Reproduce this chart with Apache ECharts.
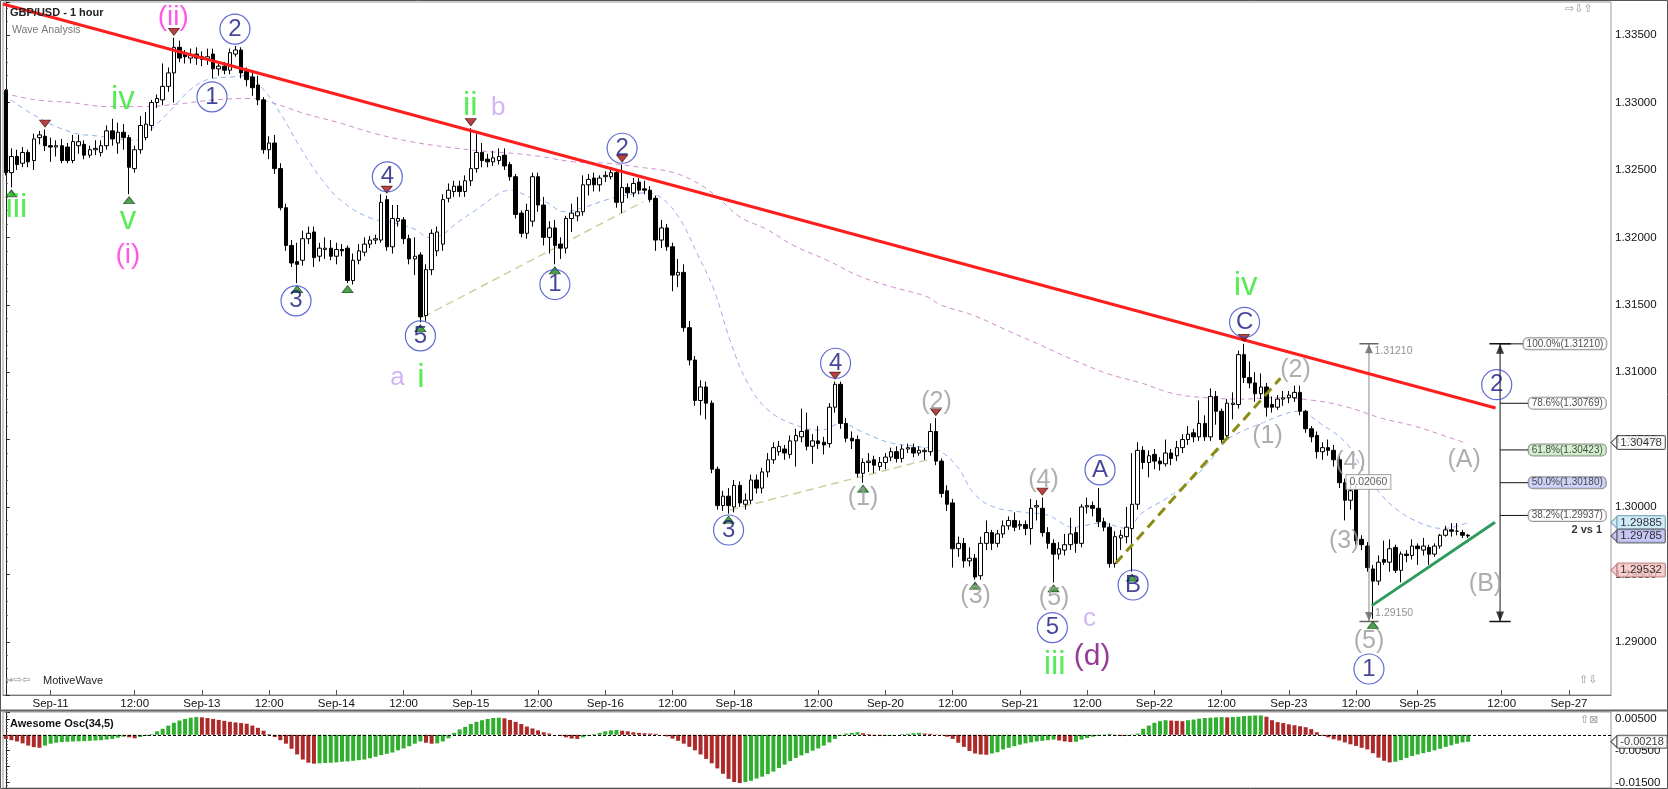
<!DOCTYPE html>
<html><head><meta charset="utf-8">
<script src="https://cdn.jsdelivr.net/npm/echarts@6/dist/echarts.min.js"></script>
<style>html,body{margin:0;padding:0;background:#fff}#c{width:1668px;height:789px}</style>
</head><body><div id="c"></div>
<script>
// ---------- DATA ----------
const tickIdx  = [8,23,35,47,59,71,83,95,107,119,130,145,157,169,181,193,205,217,229,241,252,267,279];
const tickText = ['Sep-11','12:00','Sep-13','12:00','Sep-14','12:00','Sep-15','12:00','Sep-16','12:00','Sep-18','12:00','Sep-20','12:00','Sep-21','12:00','Sep-22','12:00','Sep-23','12:00','Sep-25','12:00','Sep-27'];

// hourly candles [open, high, low, close]
const candles = [
[1.3309,1.3310,1.3246,1.3248],[1.3248,1.3266,1.3237,1.3260],[1.3260,1.3265,1.3250,1.3254],[1.3255,1.3267,1.3252,1.3263],[1.3263,1.3265,1.3252,1.3256],
[1.3257,1.3277,1.3250,1.3273],[1.3274,1.3279,1.3269,1.3276],[1.3275,1.3280,1.3264,1.3268],[1.3268,1.3274,1.3256,1.3267],[1.3267,1.3272,1.3260,1.3268],
[1.3268,1.3273,1.3255,1.3257],[1.3267,1.3270,1.3255,1.3257],[1.3257,1.3276,1.3255,1.3271],[1.3268,1.3276,1.3262,1.3271],[1.3269,1.3272,1.3258,1.3261],
[1.3261,1.3268,1.3259,1.3265],[1.3265,1.3272,1.3261,1.3266],[1.3263,1.3272,1.3260,1.3268],[1.3268,1.3283,1.3265,1.3279],[1.3279,1.3288,1.3268,1.3273],
[1.3270,1.3285,1.3262,1.3278],[1.3278,1.3284,1.3265,1.3274],[1.3274,1.3276,1.3232,1.3252],[1.3251,1.3268,1.3248,1.3265],[1.3265,1.3290,1.3262,1.3283],
[1.3274,1.3293,1.3272,1.3284],[1.3283,1.3302,1.3279,1.3300],[1.3300,1.3306,1.3296,1.3303],[1.3302,1.3329,1.3298,1.3312],[1.3312,1.3326,1.3308,1.3322],
[1.3322,1.3348,1.3300,1.3341],[1.3341,1.3346,1.3330,1.3333],[1.3336,1.3339,1.3329,1.3334],[1.3333,1.3340,1.3329,1.3335],[1.3336,1.3341,1.3328,1.3333],
[1.3334,1.3338,1.3327,1.3332],[1.3332,1.3340,1.3328,1.3334],[1.3336,1.3340,1.3318,1.3325],[1.3325,1.3330,1.3320,1.3327],[1.3327,1.3330,1.3321,1.3324],
[1.3324,1.3340,1.3321,1.3337],[1.3336,1.3342,1.3334,1.3339],[1.3339,1.3341,1.3318,1.3322],[1.3323,1.3326,1.3312,1.3317],[1.3319,1.3324,1.3305,1.3311],
[1.3313,1.3320,1.3298,1.3302],[1.3302,1.3304,1.3262,1.3265],[1.3265,1.3275,1.3258,1.3270],[1.3270,1.3276,1.3247,1.3251],[1.3251,1.3255,1.3220,1.3222],
[1.3222,1.3225,1.3190,1.3194],[1.3194,1.3198,1.3178,1.3181],[1.3182,1.3196,1.3166,1.3180],[1.3183,1.3205,1.3179,1.3199],[1.3199,1.3208,1.3195,1.3203],
[1.3204,1.3208,1.3178,1.3185],[1.3186,1.3196,1.3182,1.3192],[1.3191,1.3200,1.3184,1.3192],[1.3192,1.3198,1.3183,1.3186],[1.3186,1.3196,1.3180,1.3191],
[1.3191,1.3195,1.3186,1.3190],[1.3192,1.3194,1.3166,1.3168],[1.3168,1.3188,1.3165,1.3183],[1.3183,1.3195,1.3180,1.3190],[1.3189,1.3200,1.3186,1.3195],
[1.3195,1.3201,1.3192,1.3198],[1.3198,1.3202,1.3195,1.3199],[1.3198,1.3232,1.3196,1.3226],[1.3228,1.3231,1.3190,1.3193],[1.3193,1.3224,1.3188,1.3214],
[1.3212,1.3224,1.3208,1.3214],[1.3213,1.3215,1.3195,1.3199],[1.3199,1.3202,1.3180,1.3184],[1.3184,1.3200,1.3172,1.3186],[1.3187,1.3189,1.3137,1.3141],
[1.3142,1.3180,1.3138,1.3176],[1.3176,1.3206,1.3172,1.3203],[1.3190,1.3208,1.3186,1.3204],[1.3195,1.3232,1.3190,1.3228],[1.3229,1.3240,1.3226,1.3235],
[1.3234,1.3242,1.3230,1.3238],[1.3238,1.3242,1.3230,1.3234],[1.3234,1.3246,1.3230,1.3242],[1.3242,1.3281,1.3238,1.3251],[1.3251,1.3277,1.3248,1.3263],
[1.3263,1.3270,1.3252,1.3257],[1.3258,1.3262,1.3252,1.3256],[1.3256,1.3264,1.3253,1.3259],[1.3257,1.3266,1.3254,1.3260],[1.3261,1.3266,1.3250,1.3253],
[1.3254,1.3256,1.3242,1.3245],[1.3245,1.3247,1.3214,1.3217],[1.3218,1.3220,1.3200,1.3203],[1.3203,1.3225,1.3199,1.3220],[1.3212,1.3248,1.3208,1.3245],
[1.3245,1.3248,1.3219,1.3224],[1.3224,1.3230,1.3194,1.3200],[1.3200,1.3212,1.3188,1.3207],[1.3207,1.3213,1.3180,1.3194],[1.3195,1.3200,1.3184,1.3192],
[1.3192,1.3216,1.3188,1.3214],[1.3214,1.3225,1.3204,1.3218],[1.3216,1.3230,1.3212,1.3219],[1.3219,1.3246,1.3216,1.3239],[1.3239,1.3247,1.3231,1.3243],
[1.3244,1.3248,1.3234,1.3239],[1.3239,1.3246,1.3234,1.3244],[1.3245,1.3249,1.3241,1.3246],[1.3245,1.3250,1.3243,1.3248],[1.3248,1.3250,1.3222,1.3226],
[1.3226,1.3254,1.3218,1.3237],[1.3237,1.3240,1.3229,1.3233],[1.3233,1.3244,1.3230,1.3240],[1.3241,1.3244,1.3232,1.3235],[1.3236,1.3242,1.3232,1.3235],
[1.3235,1.3238,1.3226,1.3228],[1.3229,1.3231,1.3190,1.3198],[1.3198,1.3213,1.3192,1.3207],[1.3207,1.3210,1.3190,1.3193],[1.3193,1.3196,1.3160,1.3172],
[1.3172,1.3184,1.3163,1.3174],[1.3174,1.3180,1.3130,1.3133],[1.3133,1.3138,1.3105,1.3109],[1.3109,1.3112,1.3075,1.3079],[1.3079,1.3094,1.3068,1.3089],
[1.3089,1.3093,1.3065,1.3077],[1.3077,1.3079,1.3025,1.3028],[1.3028,1.3030,1.2998,1.3001],[1.3001,1.3012,1.2997,1.3008],[1.3008,1.3014,1.2995,1.3001],
[1.3000,1.3020,1.2996,1.3016],[1.3016,1.3019,1.3000,1.3003],[1.3002,1.3010,1.2998,1.3005],[1.3005,1.3024,1.3002,1.3020],[1.3020,1.3024,1.3010,1.3014],
[1.3014,1.3029,1.3010,1.3026],[1.3026,1.3040,1.3022,1.3035],[1.3035,1.3048,1.3032,1.3044],[1.3041,1.3049,1.3038,1.3045],[1.3043,1.3046,1.3035,1.3040],
[1.3039,1.3053,1.3036,1.3049],[1.3049,1.3058,1.3030,1.3053],[1.3052,1.3073,1.3048,1.3056],[1.3057,1.3070,1.3042,1.3045],[1.3045,1.3054,1.3032,1.3049],
[1.3049,1.3060,1.3043,1.3047],[1.3048,1.3052,1.3039,1.3046],[1.3047,1.3077,1.3044,1.3074],[1.3074,1.3093,1.3070,1.3091],[1.3091,1.3093,1.3058,1.3062],
[1.3062,1.3066,1.3048,1.3051],[1.3051,1.3056,1.3043,1.3049],[1.3050,1.3053,1.3022,1.3025],[1.3025,1.3036,1.3018,1.3033],[1.3033,1.3040,1.3026,1.3034],
[1.3035,1.3038,1.3025,1.3031],[1.3030,1.3037,1.3027,1.3033],[1.3033,1.3040,1.3028,1.3037],[1.3037,1.3044,1.3034,1.3041],[1.3041,1.3045,1.3033,1.3036],
[1.3036,1.3046,1.3033,1.3043],[1.3043,1.3047,1.3040,1.3044],[1.3044,1.3047,1.3037,1.3040],[1.3040,1.3045,1.3038,1.3042],[1.3041,1.3044,1.3035,1.3042],
[1.3041,1.3062,1.3038,1.3056],[1.3056,1.3066,1.3031,1.3034],[1.3034,1.3036,1.3007,1.3010],[1.3012,1.3016,1.2997,1.3002],[1.3003,1.3006,1.2955,1.2969],
[1.2969,1.2978,1.2963,1.2973],[1.2973,1.2977,1.2955,1.2960],[1.2960,1.2970,1.2956,1.2962],[1.2962,1.2965,1.2946,1.2948],[1.2949,1.2978,1.2946,1.2973],
[1.2973,1.2990,1.2968,1.2981],[1.2981,1.2983,1.2968,1.2973],[1.2973,1.2983,1.2970,1.2980],[1.2980,1.2990,1.2977,1.2986],[1.2986,1.2993,1.2983,1.2990],
[1.2990,1.2996,1.2982,1.2985],[1.2986,1.2990,1.2983,1.2987],[1.2987,1.2990,1.2979,1.2984],[1.2984,1.3006,1.2972,1.2999],[1.3000,1.3005,1.2990,1.3001],
[1.2999,1.3007,1.2978,1.2981],[1.2981,1.2985,1.2969,1.2973],[1.2973,1.2976,1.2944,1.2965],[1.2965,1.2974,1.2961,1.2969],[1.2968,1.2980,1.2964,1.2972],
[1.2972,1.2992,1.2968,1.2980],[1.2981,1.2985,1.2966,1.2973],[1.2973,1.3002,1.2970,1.3000],[1.3000,1.3007,1.2995,1.3001],[1.3001,1.3004,1.2993,1.2999],
[1.2999,1.3014,1.2985,1.2989],[1.2989,1.2992,1.2982,1.2985],[1.2985,1.2988,1.2955,1.2958],[1.2958,1.2982,1.2955,1.2978],[1.2977,1.2983,1.2968,1.2979],
[1.2978,1.3000,1.2973,1.2985],[1.2984,1.3040,1.2952,1.3002],[1.3002,1.3048,1.2998,1.3042],[1.3042,1.3045,1.3028,1.3033],[1.3033,1.3042,1.3022,1.3038],
[1.3039,1.3043,1.3028,1.3034],[1.3034,1.3037,1.3027,1.3032],[1.3032,1.3050,1.3030,1.3040],[1.3040,1.3043,1.3031,1.3036],[1.3038,1.3049,1.3034,1.3044],
[1.3044,1.3054,1.3040,1.3050],[1.3050,1.3060,1.3046,1.3054],[1.3055,1.3058,1.3048,1.3052],[1.3052,1.3079,1.3049,1.3062],[1.3062,1.3068,1.3049,1.3052],
[1.3052,1.3088,1.3049,1.3082],[1.3082,1.3086,1.3061,1.3071],[1.3071,1.3073,1.3047,1.3050],[1.3053,1.3080,1.3050,1.3077],[1.3076,1.3085,1.3065,1.3077],
[1.3076,1.3116,1.3073,1.3113],[1.3113,1.3121,1.3092,1.3096],[1.3096,1.3108,1.3088,1.3092],[1.3092,1.3100,1.3078,1.3084],[1.3084,1.3099,1.3080,1.3089],
[1.3089,1.3092,1.3067,1.3074],[1.3076,1.3082,1.3070,1.3074],[1.3074,1.3083,1.3072,1.3080],[1.3080,1.3086,1.3075,1.3081],[1.3081,1.3086,1.3077,1.3083],
[1.3081,1.3090,1.3078,1.3085],[1.3085,1.3090,1.3068,1.3071],[1.3071,1.3072,1.3055,1.3058],[1.3058,1.3060,1.3048,1.3052],[1.3053,1.3056,1.3036,1.3041],
[1.3041,1.3048,1.3035,1.3044],[1.3044,1.3050,1.3038,1.3042],[1.3042,1.3046,1.3030,1.3035],[1.3035,1.3038,1.3014,1.3018],[1.3018,1.3021,1.2990,1.3005],
[1.3005,1.3020,1.2998,1.3012],[1.3013,1.3016,1.2972,1.2975],[1.2976,1.2979,1.2968,1.2972],[1.2971,1.2974,1.2952,1.2955],[1.2954,1.2957,1.2917,1.2945],
[1.2945,1.2964,1.2942,1.2959],[1.2961,1.2975,1.2957,1.2959],[1.2959,1.2976,1.2952,1.2969],[1.2970,1.2972,1.2951,1.2953],[1.2953,1.2967,1.2944,1.2965],
[1.2965,1.2968,1.2959,1.2964],[1.2964,1.2976,1.2961,1.2971],[1.2971,1.2973,1.2957,1.2969],[1.2968,1.2977,1.2964,1.2971],[1.2970,1.2972,1.2957,1.2965],
[1.2965,1.2973,1.2963,1.2971],[1.2971,1.2980,1.2969,1.2979],[1.2979,1.2986,1.2978,1.2983],[1.2983,1.2988,1.2978,1.2982],[1.2982,1.2988,1.2979,1.2982],
[1.2981,1.2983,1.2977,1.2979],[1.2979,1.2980,1.2977,1.29785]
];

// moving averages: [candle index, price]
const blueMA = [[-0.4,1.3306],[5.3,1.3290],[11.7,1.3278],[16.8,1.3275],[23.2,1.3272],[26.4,1.3282],[29.6,1.3295],[32.8,1.3309],[36,1.3317],[40.4,1.3319],[42.9,1.3320],[46.1,1.3309],[49.3,1.3290],[52.5,1.3267],[56.4,1.3243],[60.2,1.3226],[65.3,1.3214],[69.1,1.3211],[73,1.3206],[75.5,1.3200],[77.4,1.3201],[80.6,1.3211],[83.8,1.3220],[88.3,1.3233],[90.2,1.3235],[93.4,1.3230],[96.5,1.3226],[99.6,1.3219],[103,1.3222],[107.3,1.3228],[110.3,1.3231],[114.4,1.3233],[117.4,1.3228],[120.4,1.3213],[123.4,1.3188],[126.4,1.3161],[129.4,1.3122],[132.4,1.3092],[136,1.3072],[140.8,1.3061],[145.5,1.3057],[149.1,1.3062],[152.7,1.3056],[157.5,1.3048],[162.3,1.3045],[166.4,1.3042],[169.8,1.3030],[172.8,1.3010],[176.3,1.3000],[181.7,1.2996],[185.9,1.2994],[190.6,1.2985],[195.4,1.2988],[200.2,1.2984],[202.6,1.2995],[207.4,1.3007],[212.1,1.3022],[215.1,1.3035],[218.1,1.3050],[221.1,1.3057],[224.1,1.3062],[227.6,1.3068],[230.6,1.3071],[234.6,1.3062],[239.3,1.3047],[242.3,1.3027],[245.3,1.3010],[248.3,1.2998],[252.5,1.2988],[256.6,1.2984],[261,1.29885]];
const pinkMA = [[-0.4,1.3307],[5.3,1.3302],[11.7,1.3300],[18,1.3297],[24.5,1.3297],[30.9,1.3299],[37.2,1.3302],[43.6,1.3303],[47.4,1.3300],[53.2,1.3292],[59.5,1.3285],[65.9,1.3277],[72.3,1.3271],[78.7,1.3267],[85.1,1.3264],[91.4,1.3262],[95.4,1.3260],[101.3,1.3256],[107.3,1.3255],[113.2,1.3252],[119.2,1.3248],[124,1.3239],[127.5,1.3228],[131.1,1.3215],[135.8,1.3206],[140.6,1.3194],[146.6,1.3183],[152.5,1.3171],[158.4,1.3163],[164.4,1.3156],[166.8,1.3150],[172.8,1.3142],[178.7,1.3131],[184.7,1.3120],[190.6,1.3109],[196.6,1.3099],[202.6,1.3092],[208.5,1.3084],[214.4,1.3081],[220.4,1.3080],[226.4,1.3081],[233.5,1.3079],[239.5,1.3074],[245.4,1.3066],[251.4,1.3060],[257.3,1.3052],[260.3,1.30478]];

// Awesome Oscillator (34,5), one value per candle
const ao = [
-0.0013,-0.0017,-0.0021,-0.0027,-0.0034,-0.0039,-0.0041,-0.0034,-0.0028,-0.0025,
-0.0023,-0.0022,-0.0021,-0.00205,-0.0020,-0.0019,-0.0018,-0.0017,-0.0015,-0.0013,
-0.0009,-0.0006,-0.0008,-0.0011,-0.0007,-0.0004,0.0002,0.0011,0.0019,0.0029,
0.0038,0.0045,0.0050,0.0054,0.0056,0.0055,0.0053,0.0050,0.0047,0.0044,
0.0041,0.0039,0.0037,0.0035,0.0029,0.0022,0.0013,0.0002,-0.0007,-0.0017,
-0.0028,-0.0044,-0.0062,-0.0078,-0.0088,-0.0091,-0.0090,-0.0089,-0.0088,-0.0087,
-0.0085,-0.0084,-0.0082,-0.0080,-0.0078,-0.0074,-0.0069,-0.0064,-0.0060,-0.0056,
-0.0049,-0.0043,-0.0036,-0.0028,-0.0021,-0.0025,-0.0028,-0.0027,-0.0021,-0.0011,
0.0006,0.0017,0.0025,0.0034,0.0041,0.0046,0.0050,0.0053,0.0054,0.0052,
0.0047,0.0041,0.0034,0.0026,0.0020,0.0014,0.0008,0.0004,0.0000,-0.0004,
-0.0008,-0.0012,-0.0013,-0.0008,-0.0003,0.0002,0.0006,0.0011,0.0014,0.0015,
0.0013,0.0011,0.0008,0.0006,0.0005,0.0004,0.0003,0.0000,-0.0005,-0.0012,
-0.0019,-0.0028,-0.0038,-0.0049,-0.0062,-0.0076,-0.0090,-0.0106,-0.0123,-0.0139,
-0.0149,-0.0152,-0.0149,-0.0145,-0.0138,-0.0132,-0.0124,-0.0116,-0.0105,-0.0094,
-0.0083,-0.0073,-0.0065,-0.0058,-0.0050,-0.0043,-0.0034,-0.0024,-0.0013,-0.0003,
0.0004,0.0006,0.0008,0.0005,0.0002,-0.0002,-0.0004,-0.0003,-0.0002,0.0000,
0.0002,0.0003,0.0005,0.0006,0.0004,0.0003,0.0001,-0.0001,-0.0006,-0.0013,
-0.0025,-0.0038,-0.0051,-0.0059,-0.0062,-0.0063,-0.0059,-0.0055,-0.0046,-0.0041,
-0.0036,-0.0031,-0.0027,-0.0024,-0.0021,-0.0019,-0.0017,-0.0015,-0.0018,-0.0021,
-0.0023,-0.0022,-0.0015,-0.0010,-0.0006,-0.0004,0.0001,0.0003,-0.0002,-0.0004,
-0.0003,0.0001,0.0004,0.0019,0.0029,0.0038,0.0043,0.0046,0.0045,0.0044,
0.0043,0.0046,0.0048,0.0051,0.0053,0.0054,0.0055,0.0056,0.0055,0.0056,
0.0057,0.0059,0.0060,0.0061,0.0061,0.0057,0.0046,0.0040,0.0037,0.0033,
0.0030,0.0027,0.0024,0.0018,0.0008,-0.0003,-0.0008,-0.0014,-0.0018,-0.0024,
-0.0030,-0.0035,-0.0041,-0.0046,-0.0058,-0.0072,-0.0082,-0.0087,-0.0085,-0.0080,
-0.0073,-0.0067,-0.0062,-0.0058,-0.0054,-0.0049,-0.0044,-0.0038,-0.0033,-0.0028,
-0.0024,-0.0022
];

// pivot markers (candle indices)
const lowMarks  = [1,22,52,61,74,98,129,153,173,187,201,244];
const highMarks = [7,30,68,83,110,148,166,185,221];

// wave labels: [text, candle index, price]
const circleLabels = [['2',40.9,1.33545],['1',36.8,1.33042],['3',51.8,1.31529],['4',68.1,1.32449],['5',74.0,1.31269],['1',98.0,1.31650],['2',110.0,1.32661],['3',129.0,1.29829],['4',148.1,1.31066],['5',186.8,1.29105],['A',195.3,1.30275],['B',201.2,1.29421],['C',221.1,1.31370],['1',243.3,1.28798],['2',266.1,1.30907]];
const greenLabels  = [['iii',1.9,1.32218],['iv',20.9,1.33020],['v',21.8,1.32130],['ii',82.9,1.32975],['i',74.1,1.30960],['iv',221.3,1.31638],['iii',187.2,1.28828]];
const magentaLabels = [['(ii)',29.9,1.33635],['(i)',21.8,1.31870]];
const lavenderLabels = [['b',87.9,1.32960],['a',69.9,1.30960],['c',193.4,1.29169]];
const purpleLabels = [['(d)',193.9,1.28892]];
const grayLabels = [['(1)',153.0,1.30064],['(2)',166.1,1.30781],['(3)',173.1,1.29335],['(4)',185.2,1.30200],['(5)',187.1,1.29323],['(1)',225.2,1.30522],['(2)',230.2,1.31016],['(3)',238.9,1.29750],['(4)',240.0,1.30336],['(5)',243.3,1.29008],['(A)',260.3,1.30349],['(B)',264.1,1.29429]];

// drawn lines: [[index, price], [index, price]]
const redTrend   = [[-0.5,1.33731],[265.9,1.30734]];
const greenTrend = [[243.8,1.29268],[265.8,1.29886]];
const oliveLine  = [[198.1,1.29582],[227.5,1.30955]];
const tanLine1   = [[74.5,1.31410],[113.8,1.32265]];
const tanLine2   = [[129.3,1.29978],[164.4,1.30349]];

// Fibonacci retracement of wave 1 (high 1.31210 -> low 1.29150)
const fibHigh = 1.31210, fibLow = 1.29150;
const fibLevels = [['100.0%',1.31210],['78.6%',1.30769],['61.8%',1.30423],['50.0%',1.30180],['38.2%',1.29937]];
const fibFill = {'61.8%':'#c9efc2','50.0%':'#c4c8f6'};
const measureText = '0.02060';

// right-axis value tags: [text, value, fill, border]
const priceTags = [['1.30478',1.30478,'#ffffff','#333333'],['1.29885',1.29885,'#c4e6f6','#6a9ab0'],['1.29785',1.29785,'#b9b9f0','#444444'],['1.29532',1.29532,'#f6c4c4','#b07070']];
const aoTag = -0.00218;

// ---------- CHART ----------
const FONT = '"Liberation Sans", Arial, sans-serif';
const N = 287;
const cats = Array.from({length:N}, (_, k) => String(k));
const tickSet = new Set(tickIdx);
const tickMap = {}; tickIdx.forEach((k, j) => tickMap[k] = tickText[j]);

const YMAX = 1.33746, YMIN = 1.28605;
const OMAX = 0.00719, OMIN = -0.01678;

function seg(points, color, width, type, z) {
  return {type:'line', xAxisIndex:1, yAxisIndex:0, data:points, symbol:'none', showSymbol:false,
    lineStyle:{color:color, width:width, type:type||'solid'}, z:z||4, silent:true, animation:false, clip:true};
}
function textSeries(list, color, size, z, extra) {
  return Object.assign({type:'scatter', xAxisIndex:1, yAxisIndex:0, symbolSize:0, z:z||10, silent:true, animation:false, clip:false,
    data:list.map(d => ({name:d[0], value:[d[1], d[2]]})),
    label:{show:true, position:'inside', formatter:'{b}', color:color, fontSize:size, fontFamily:FONT}}, extra||{});
}
function tagSeries(xIdx, yIdx, text, value, fill, border, size) {
  return {type:'scatter', xAxisIndex:xIdx, yAxisIndex:yIdx, silent:true, animation:false, clip:false, z:20,
    symbol:'path://M0,6L6,0L6,12Z', symbolSize:[6,12], symbolOffset:[3,0],
    itemStyle:{color:fill, borderColor:border, borderWidth:1},
    data:[{name:text, value:[N-0.5, value]}],
    label:{show:true, position:'right', distance:0, formatter:'{b}', color:'#000', fontSize:size, fontFamily:FONT,
      backgroundColor:fill, borderColor:border, borderWidth:1, borderRadius:1, padding:[1,3,0,3]}};
}

const series = [];
// MAs
series.push(Object.assign(seg(pinkMA, '#cf8fcf', 1, [5,4], 2), {smooth:0.4}));
series.push(Object.assign(seg(blueMA, '#94b2ee', 1, [5,4], 2), {smooth:0.4}));
// helper dashed lines
series.push(seg(tanLine1, '#cfcf9f', 1.5, [8,5], 3));
series.push(seg(tanLine2, '#cfcf9f', 1.5, [8,5], 3));
// candles
series.push({
  type:'candlestick', xAxisIndex:0, yAxisIndex:0, barWidth:4, z:5, silent:true, animation:false,
  data: candles.map(c => [c[0], c[3], c[2], c[1]]),
  itemStyle:{color:'#ffffff', color0:'#000000', borderColor:'#000000', borderColor0:'#000000', borderWidth:1}
});
// trend lines
series.push(seg(oliveLine, '#8c8c12', 3, [10,6], 6));
series.push(seg(redTrend, '#ff1e1e', 3, 'solid', 7));
series.push(seg(greenTrend, '#2e9a5c', 3, 'solid', 7));

// measurement tool (gray) at wave 1
const mI = 243.3;
series.push(seg([[mI, fibHigh],[mI, fibLow]], '#8a8a8a', 1, 'solid', 6));
series.push(seg([[mI-1.7, fibHigh],[mI+1.7, fibHigh]], '#666', 1.5, 'solid', 6));
series.push(seg([[mI-1.7, fibLow],[mI+1.7, fibLow]], '#666', 1.5, 'solid', 6));
series.push({type:'scatter', xAxisIndex:1, yAxisIndex:0, silent:true, animation:false, z:7, symbol:'triangle', symbolSize:[8,9], symbolOffset:[0,5], itemStyle:{color:'#666'}, data:[[mI, fibHigh]]});
series.push({type:'scatter', xAxisIndex:1, yAxisIndex:0, silent:true, animation:false, z:7, symbol:'path://M0,0L10,0L5,9Z', symbolSize:[8,9], symbolOffset:[0,-5], itemStyle:{color:'#666'}, data:[[mI, fibLow]]});
series.push(textSeries([['1.31210', mI+1.0, fibHigh-0.00053],['1.29150', mI+1.1, fibLow+0.00064]], '#777', 10.5, 9, {label:{show:true, position:'right', distance:0, formatter:'{b}', color:'#777', fontSize:10.5, fontFamily:FONT}}));
series.push(textSeries([[measureText, mI-0.1, 1.30186]], '#333', 10.5, 12, {label:{show:true, position:'inside', formatter:'{b}', color:'#333', fontSize:10.5, fontFamily:FONT, backgroundColor:'#fff', borderColor:'#999', borderWidth:1, padding:[2,3,1,3]}}));

// fib tool (black) for wave 2 target
const fI = 266.7;
series.push(seg([[fI, fibHigh],[fI, fibLow]], '#111', 1, 'solid', 6));
series.push(seg([[fI-1.9, fibHigh],[fI+1.9, fibHigh]], '#111', 1.5, 'solid', 6));
series.push(seg([[fI-1.9, fibLow],[fI+1.9, fibLow]], '#111', 1.5, 'solid', 6));
series.push({type:'scatter', xAxisIndex:1, yAxisIndex:0, silent:true, animation:false, z:7, symbol:'triangle', symbolSize:[8,10], symbolOffset:[0,5], itemStyle:{color:'#111'}, data:[[fI, fibHigh]]});
series.push({type:'scatter', xAxisIndex:1, yAxisIndex:0, silent:true, animation:false, z:7, symbol:'path://M0,0L10,0L5,10Z', symbolSize:[8,10], symbolOffset:[0,-5], itemStyle:{color:'#111'}, data:[[fI, fibLow]]});
fibLevels.forEach((f, j) => {
  const boxI = j === 0 ? 270.9 : 271.8;
  series.push(seg([[fI, f[1]],[boxI, f[1]]], '#111', 1, 'solid', 6));
  series.push({type:'scatter', xAxisIndex:1, yAxisIndex:0, symbolSize:0, z:11, silent:true, animation:false, clip:false,
    data:[{name: f[0] + '(' + f[1].toFixed(5) + ')', value:[boxI, f[1]]}],
    label:{show:true, position:'right', distance:0, formatter:'{b}', color:'#222', fontSize:10, fontFamily:FONT,
      backgroundColor: fibFill[f[0]] || '#ffffff', borderColor:'#777', borderWidth:1, borderRadius:4, padding:[1,3,0,3]}});
});
series.push(textSeries([['2 vs 1', 284.9, 1.29832]], '#000', 11, 12, {label:{show:true, position:'left', distance:0, formatter:'{b}', color:'#000', fontSize:11, fontWeight:'bold', fontFamily:FONT}}));

// pivot triangles
series.push({type:'scatter', xAxisIndex:1, yAxisIndex:0, silent:true, animation:false, z:8, symbol:'triangle', symbolSize:[11,7], symbolOffset:[0,6],
  itemStyle:{color:'#1f8c1f', borderColor:'#0d3d0d', borderWidth:0.8}, data: lowMarks.map(i => [i, candles[i][2]])});
series.push({type:'scatter', xAxisIndex:1, yAxisIndex:0, silent:true, animation:false, z:8, symbol:'path://M0,0L10,0L5,7Z', symbolSize:[11,7], symbolOffset:[0,-6],
  itemStyle:{color:'#a31616', borderColor:'#4a0a0a', borderWidth:0.8}, data: highMarks.map(i => [i, candles[i][1]])});

// wave labels
series.push({type:'scatter', xAxisIndex:1, yAxisIndex:0, silent:true, animation:false, z:10, clip:false, symbol:'circle', symbolSize:30,
  itemStyle:{color:'rgba(255,255,255,0)', borderColor:'#3a46c6', borderWidth:1.2},
  data: circleLabels.map(d => ({name:d[0], value:[d[1], d[2]]})),
  label:{show:true, position:'inside', formatter:'{b}', color:'#16167f', fontSize:24, fontFamily:FONT}});
series.push(textSeries(greenLabels, '#2ee62e', 33));
series.push(textSeries(magentaLabels, '#ff30dc', 28));
series.push(textSeries(lavenderLabels, '#c7a2f3', 26));
series.push(textSeries(purpleLabels, '#7a0a7a', 30));
series.push(textSeries(grayLabels, '#9a9a9a', 25));

// right-axis value tags
priceTags.forEach(t => series.push(tagSeries(1, 0, t[0], t[1], t[2], t[3], 11.5)));

// Awesome oscillator
series.push({
  type:'bar', xAxisIndex:2, yAxisIndex:1, barWidth:4, silent:true, animation:false,
  data: ao.map((v, k) => ({value:v, itemStyle:{color: (k > 0 && v >= ao[k-1]) ? '#2fae2f' : '#ad2a2a'}})),
  markLine:{silent:true, symbol:'none', animation:false, data:[
    {yAxis:0, lineStyle:{color:'#000', width:1, type:[3,2]}, label:{show:false}}
  ]}
});
series.push(tagSeries(3, 1, aoTag.toFixed(5), aoTag, '#ffffff', '#333333', 11));

const option = {
  animation:false,
  backgroundColor:'#ffffff',
  textStyle:{fontFamily:FONT},
  grid:[
    {left:3, top:2, width:1608, height:693, show:true, borderColor:'#999', borderWidth:1},
    {left:3, top:712, width:1608, height:76, show:true, borderColor:'#999', borderWidth:1}
  ],
  xAxis:[
    {type:'category', gridIndex:0, data:cats, boundaryGap:true,
     axisLine:{show:true, lineStyle:{color:'#777'}},
     axisTick:{show:true, inside:true, length:5, alignWithLabel:true, interval:(i) => tickSet.has(i), lineStyle:{color:'#555'}},
     axisLabel:{show:true, interval:(i) => tickSet.has(i), formatter:(v) => tickMap[+v] || '', margin:3, fontSize:11.5, color:'#111', fontFamily:FONT},
     splitLine:{show:false}},
    {type:'value', gridIndex:0, min:-0.5, max:N-0.5, show:false},
    {type:'category', gridIndex:1, data:cats, boundaryGap:true, show:false},
    {type:'value', gridIndex:1, min:-0.5, max:N-0.5, show:false}
  ],
  yAxis:[
    {type:'value', gridIndex:0, position:'right', min:YMIN, max:YMAX, splitNumber:10,
     axisLine:{show:true, lineStyle:{color:'#222'}}, axisTick:{show:true, length:4, lineStyle:{color:'#222'}},
     minorTick:{show:true, splitNumber:5, length:2, lineStyle:{color:'#555'}}, splitLine:{show:false}, minorSplitLine:{show:false},
     axisLabel:{formatter:(v) => v.toFixed(5), showMinLabel:false, showMaxLabel:false, margin:4, fontSize:11.5, color:'#111', fontFamily:FONT}},
    {type:'value', gridIndex:1, position:'right', min:OMIN, max:OMAX, splitNumber:5,
     axisLine:{show:true, lineStyle:{color:'#222'}}, axisTick:{show:true, length:4, lineStyle:{color:'#222'}},
     minorTick:{show:true, splitNumber:5, length:2, lineStyle:{color:'#555'}}, splitLine:{show:false},
     axisLabel:{formatter:(v) => (Math.abs(v) < 1e-9 || Math.abs(v + 0.01) < 1e-9) ? '' : v.toFixed(5), showMinLabel:false, showMaxLabel:false, margin:4, fontSize:11.5, color:'#111', fontFamily:FONT}}
  ],
  graphic:[
    {type:'rect', silent:true, z:100, shape:{x:0.5, y:0.5, width:1667, height:788}, style:{fill:'none', stroke:'#555', lineWidth:1}},
    {type:'line', silent:true, z:100, shape:{x1:0, y1:710.5, x2:1668, y2:710.5}, style:{stroke:'#666', lineWidth:2}},
    {type:'text', silent:true, z:100, x:10, y:7, style:{text:'GBP/USD - 1 hour', font:'bold 11px ' + FONT, fill:'#222'}},
    {type:'text', silent:true, z:100, x:12, y:25, style:{text:'Wave Analysis', font:'10.5px ' + FONT, fill:'#777'}},
    {type:'text', silent:true, z:100, x:1565, y:4, style:{text:'⇨⇩⇧', font:'11px "DejaVu Sans"', fill:'#999'}},
    {type:'text', silent:true, z:100, x:5, y:675, style:{text:'⇔⇨⇦', font:'10px "DejaVu Sans"', fill:'#888'}},
    {type:'text', silent:true, z:100, x:43, y:675, style:{text:'MotiveWave', font:'11px ' + FONT, fill:'#222'}},
    {type:'text', silent:true, z:100, x:1579, y:675, style:{text:'⇧⇩', font:'11px "DejaVu Sans"', fill:'#999'}},
    {type:'text', silent:true, z:100, x:10, y:718, style:{text:'Awesome Osc(34,5)', font:'bold 11px ' + FONT, fill:'#111'}},
    {type:'text', silent:true, z:100, x:1580, y:715, style:{text:'⇧⊠', font:'11px "DejaVu Sans"', fill:'#999'}}
  ],
  series: series
};

const chart = echarts.init(document.getElementById('c'), null, {renderer:'canvas'});
chart.setOption(option);
</script>
</body></html>
